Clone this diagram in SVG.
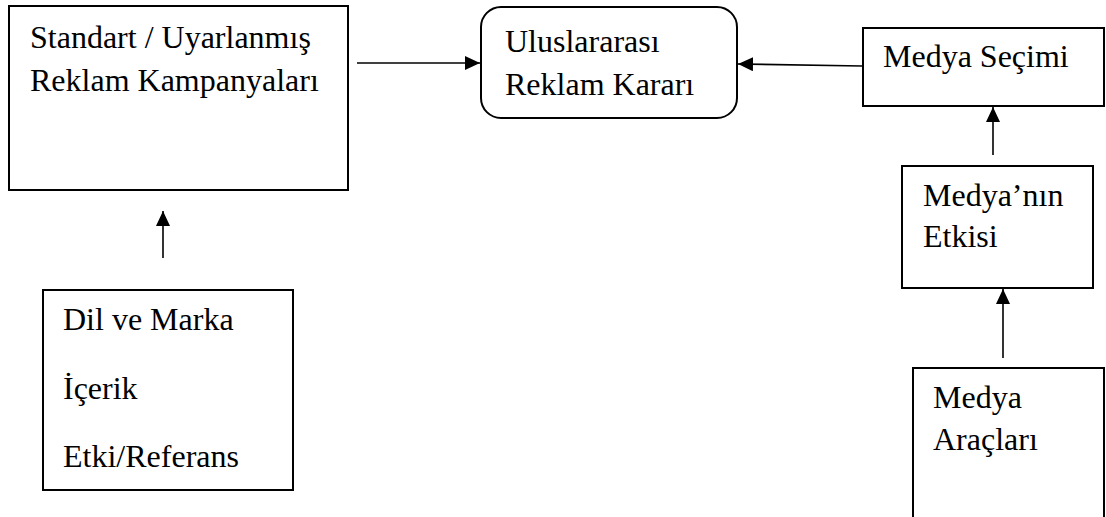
<svg xmlns="http://www.w3.org/2000/svg" width="1106" height="517" viewBox="0 0 1106 517">
  <style>
    .box { fill: #ffffff; stroke: #000000; stroke-width: 2; }
    .lbl { font-family: 'Liberation Serif', 'Times New Roman', Times, serif; font-size: 32px; fill: #000000; }
    .link { stroke: #000000; stroke-width: 1.6; fill: none; marker-end: url(#head); }
  </style>
  <defs>
    <marker id="head" viewBox="0 0 15 14" refX="15" refY="7" markerWidth="15" markerHeight="14" markerUnits="userSpaceOnUse" orient="auto">
      <path d="M0,0 L15,7 L0,14 Z" fill="#000000"/>
    </marker>
  </defs>
  <rect width="1106" height="517" fill="#ffffff"/>

  <g id="kampanyalar">
    <rect class="box" x="9" y="6" width="339" height="184"/>
    <text class="lbl" x="30" y="48">Standart / Uyarlanmış</text>
    <text class="lbl" x="30" y="91">Reklam Kampanyaları</text>
  </g>

  <g id="karar">
    <rect class="box" x="481" y="7" width="256" height="111" rx="20" ry="20"/>
    <text class="lbl" x="505" y="52">Uluslararası</text>
    <text class="lbl" x="505" y="95">Reklam Kararı</text>
  </g>

  <g id="medya-secimi">
    <rect class="box" x="863" y="28" width="241" height="78"/>
    <text class="lbl" x="883" y="67">Medya Seçimi</text>
  </g>

  <g id="medya-etkisi">
    <rect class="box" x="902" y="166" width="191" height="122"/>
    <text class="lbl" x="923" y="206">Medya’nın</text>
    <text class="lbl" x="923" y="247">Etkisi</text>
  </g>

  <g id="medya-araclari">
    <rect class="box" x="913" y="368" width="191" height="160"/>
    <text class="lbl" x="933" y="408">Medya</text>
    <text class="lbl" x="933" y="450">Araçları</text>
  </g>

  <g id="icerik">
    <rect class="box" x="43" y="290" width="250" height="200"/>
    <text class="lbl" x="63" y="330">Dil ve Marka</text>
    <text class="lbl" x="63" y="399">İçerik</text>
    <text class="lbl" x="63" y="467">Etki/Referans</text>
  </g>

  <g id="connectors">
    <line class="link" x1="357" y1="63" x2="480" y2="63"/>
    <line class="link" x1="862" y1="66" x2="738" y2="64"/>
    <line class="link" x1="993" y1="155" x2="993" y2="107"/>
    <line class="link" x1="1003" y1="358" x2="1003" y2="289"/>
    <line class="link" x1="163" y1="258" x2="163" y2="211"/>
  </g>
</svg>
